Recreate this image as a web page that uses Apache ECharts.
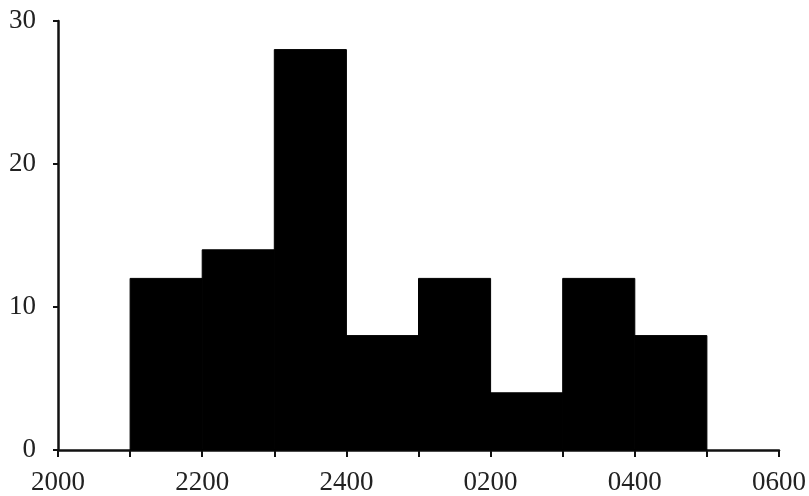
<!DOCTYPE html>
<html><head><meta charset="utf-8">
<script src="https://cdn.jsdelivr.net/npm/echarts@6/dist/echarts.min.js"></script>
<style>html,body{margin:0;padding:0;background:#fff}#c{width:809px;height:496px}</style>
</head><body><div id="c"></div>
<script>
// hours after 2000 at which each bin starts (bin width 1 hour)
const binStarts = [1, 2, 3, 4, 5, 6, 7, 8];
const counts = [12, 14, 28, 8, 12, 4, 12, 8];
// x tick labels at hours 0,2,4,6,8,10 after 2000
const xTickLabels = ['2000', '2200', '2400', '0200', '0400', '0600'];
const yTicks = [0, 10, 20, 30];

const data = binStarts.map((s, i) => [s, s + 1, counts[i]]);
const font = '"Liberation Serif", "Times New Roman", serif';

const chart = echarts.init(document.getElementById('c'), null, {renderer: 'canvas'});
chart.setOption({
  animation: false,
  backgroundColor: '#fff',
  grid: {left: 58, right: 30, top: 21, bottom: 46, containLabel: false},
  xAxis: {
    type: 'value', min: 0, max: 10, interval: 1,
    splitLine: {show: false},
    axisLine: {lineStyle: {color: '#111', width: 2.5}},
    axisTick: {inside: false, length: 7, lineStyle: {color: '#111', width: 2}},
    axisLabel: {
      margin: 19, color: '#222', fontFamily: font, fontSize: 27,
      formatter: v => (v % 2 === 0 ? xTickLabels[v / 2] : '')
    }
  },
  yAxis: {
    type: 'value', min: yTicks[0], max: yTicks[yTicks.length - 1], interval: 10,
    splitLine: {show: false},
    axisLine: {show: true, lineStyle: {color: '#111', width: 2.5}},
    axisTick: {show: true, inside: false, length: 5, lineStyle: {color: '#111', width: 2}},
    axisLabel: {margin: 22, color: '#222', fontFamily: font, fontSize: 27}
  },
  series: [{
    type: 'custom',
    data: data,
    encode: {x: [0, 1], y: 2},
    renderItem: (params, api) => {
      const p0 = api.coord([api.value(0), 0]);
      const p1 = api.coord([api.value(1), api.value(2)]);
      return {
        type: 'rect',
        shape: {x: p0[0], y: p1[1], width: p1[0] - p0[0], height: p0[1] - p1[1]},
        style: {fill: '#000', stroke: '#000', lineWidth: 1}
      };
    }
  }]
});
</script></body></html>
